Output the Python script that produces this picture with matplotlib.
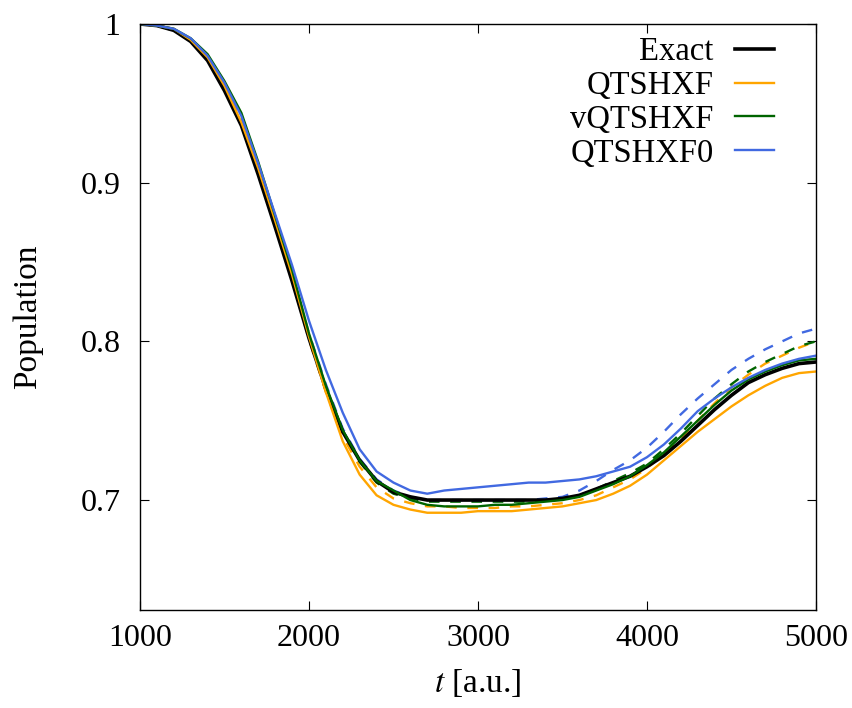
import numpy as np
import matplotlib
matplotlib.use("Agg")
import matplotlib.pyplot as plt

plt.rcParams['font.family'] = ['Liberation Serif', 'DejaVu Serif']
plt.rcParams['mathtext.fontset'] = 'stix'

# -------------------------
# Data
# -------------------------

t = [1000, 1100, 1200, 1300, 1400, 1500, 1600, 1700, 1800, 1900,
     2000, 2100, 2200, 2300, 2400, 2500, 2600, 2700, 2800, 2900,
     3000, 3100, 3200, 3300, 3400, 3500, 3600, 3700, 3800, 3900,
     4000, 4100, 4200, 4300, 4400, 4500, 4600, 4700, 4800, 4900, 5000]

exact = [1.000, 0.999, 0.996, 0.989, 0.977, 0.958, 0.936, 0.905, 0.872, 0.838,
         0.802, 0.770, 0.743, 0.725, 0.712, 0.705, 0.702, 0.700, 0.700, 0.700,
         0.700, 0.700, 0.700, 0.700, 0.700, 0.701, 0.703, 0.707, 0.711, 0.715,
         0.721, 0.728, 0.737, 0.747, 0.757, 0.766, 0.774, 0.779, 0.783, 0.786, 0.787]

qtshxf = [1.000, 0.999, 0.997, 0.990, 0.979, 0.961, 0.938, 0.909, 0.876, 0.842,
          0.803, 0.768, 0.737, 0.716, 0.703, 0.697, 0.694, 0.692, 0.692, 0.692,
          0.693, 0.693, 0.693, 0.694, 0.695, 0.696, 0.698, 0.700, 0.704, 0.709,
          0.716, 0.725, 0.734, 0.743, 0.751, 0.759, 0.766, 0.772, 0.777, 0.780, 0.781]

qtshxf_d = [1.000, 0.999, 0.996, 0.989, 0.978, 0.959, 0.937, 0.906, 0.873, 0.839,
            0.801, 0.768, 0.740, 0.721, 0.708, 0.701, 0.698, 0.696, 0.696, 0.695,
            0.695, 0.695, 0.696, 0.696, 0.697, 0.698, 0.700, 0.703, 0.708, 0.713,
            0.720, 0.729, 0.739, 0.750, 0.761, 0.771, 0.779, 0.786, 0.791, 0.796, 0.800]

vqtshxf = [1.000, 0.999, 0.997, 0.991, 0.981, 0.964, 0.944, 0.913, 0.879, 0.845,
           0.805, 0.772, 0.744, 0.725, 0.712, 0.706, 0.700, 0.697, 0.696, 0.696,
           0.696, 0.697, 0.697, 0.698, 0.699, 0.700, 0.702, 0.706, 0.710, 0.715,
           0.722, 0.730, 0.740, 0.750, 0.760, 0.769, 0.776, 0.781, 0.785, 0.788, 0.789]

vqtshxf_d = [1.000, 0.999, 0.996, 0.990, 0.978, 0.960, 0.938, 0.907, 0.874, 0.840,
             0.802, 0.770, 0.743, 0.724, 0.711, 0.704, 0.701, 0.699, 0.699, 0.699,
             0.699, 0.699, 0.699, 0.699, 0.700, 0.701, 0.703, 0.707, 0.712, 0.717,
             0.723, 0.732, 0.742, 0.753, 0.764, 0.773, 0.781, 0.787, 0.792, 0.797, 0.800]

qtshxf0 = [1.000, 0.999, 0.997, 0.991, 0.980, 0.963, 0.942, 0.912, 0.880, 0.848,
           0.813, 0.782, 0.755, 0.732, 0.718, 0.711, 0.706, 0.704, 0.706, 0.707,
           0.708, 0.709, 0.710, 0.711, 0.711, 0.712, 0.713, 0.715, 0.718, 0.721,
           0.727, 0.735, 0.745, 0.756, 0.764, 0.771, 0.777, 0.782, 0.786, 0.789, 0.791]

qtshxf0_d = [1.000, 0.999, 0.997, 0.990, 0.979, 0.961, 0.939, 0.908, 0.875, 0.842,
             0.805, 0.773, 0.745, 0.726, 0.713, 0.706, 0.702, 0.700, 0.700, 0.700,
             0.700, 0.700, 0.700, 0.700, 0.701, 0.702, 0.706, 0.712, 0.719, 0.725,
             0.733, 0.743, 0.754, 0.764, 0.773, 0.782, 0.789, 0.795, 0.800, 0.805, 0.808]

xticks = [1000, 2000, 3000, 4000, 5000]
yticks = [0.7, 0.8, 0.9, 1.0]
ytick_labels = ["0.7", "0.8", "0.9", "1"]

# -------------------------
# Plot
# -------------------------

fig = plt.figure(figsize=(8.52, 7.08), dpi=100)
ax = fig.add_axes([0.1643, 0.1384, 0.7934, 0.8277])

orange = '#ffa500'
green = '#006400'
blue = '#4169e1'
dash = (0, (4.5, 4.5))

ax.plot(t, qtshxf_d, color=orange, lw=1.7, linestyle=dash)
ax.plot(t, vqtshxf_d, color=green, lw=1.7, linestyle=dash)
ax.plot(t, qtshxf0_d, color=blue, lw=1.7, linestyle=dash)

ax.plot(t, exact, color='black', lw=2.6, label='Exact')
ax.plot(t, qtshxf, color=orange, lw=1.7, label='QTSHXF')
ax.plot(t, vqtshxf, color=green, lw=1.7, label='vQTSHXF')
ax.plot(t, qtshxf0, color=blue, lw=1.7, label='QTSHXF0')

ax.set_xlim(1000, 5000)
ax.set_ylim(0.6307, 1.0)
ax.set_xticks(xticks)
ax.set_xticklabels([str(v) for v in xticks])
ax.set_yticks(yticks)
ax.set_yticklabels(ytick_labels)

ax.tick_params(direction='in', length=6.5, width=0.8, top=True, right=True,
               labelsize=23)
ax.tick_params(axis='x', pad=10)
ax.tick_params(axis='y', pad=14)
for s in ax.spines.values():
    s.set_linewidth(1.0)

ax.set_xlabel('$t$ [a.u.]', fontsize=24, labelpad=10)
ax.set_ylabel('Population', fontsize=24, labelpad=27)

ax.legend(loc='upper right', frameon=False, fontsize=23.5, markerfirst=False,
          handlelength=1.2, handletextpad=0.65, labelspacing=0.1,
          borderaxespad=0.3, bbox_to_anchor=(0.972, 1.017))

fig.savefig('out.png', dpi=100)
